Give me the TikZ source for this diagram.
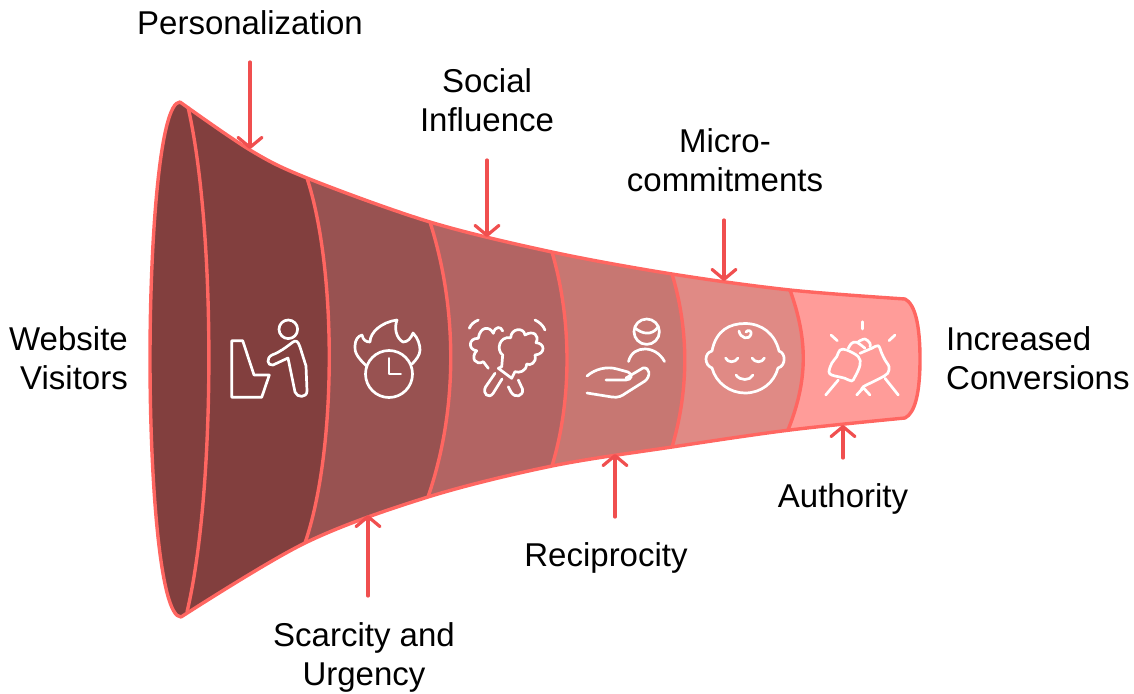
\documentclass[tikz,border=0pt]{standalone}
\usepackage{fontspec}
\setmainfont{Liberation Sans}
\usetikzlibrary{arrows.meta}
\definecolor{edgeC}{HTML}{FF6661}
\definecolor{arrC}{HTML}{F04F4F}
\definecolor{s1}{HTML}{823F3E}
\definecolor{s2}{HTML}{985251}
\definecolor{s3}{HTML}{B26463}
\definecolor{s4}{HTML}{C77772}
\definecolor{s5}{HTML}{E08A85}
\definecolor{s6}{HTML}{FF9C99}
\tikzset{
  lbl/.style={font=\fontsize{33}{39}\selectfont,text=black,inner sep=0pt},
  conn/.style={draw=arrC,line width=3.2pt,line cap=round,-{Straight Barb[length=10pt,width=24pt,line width=3.2pt,round]}},
  seam/.style={draw=edgeC,line width=3.4pt},
  ico/.style={draw=white,line width=2.7pt,line cap=round,line join=round},
}
\newcommand{\funneloutline}{
  (180,102)
  -- plot[smooth,tension=.55] coordinates {(180,102) (250,150) (307,178) (430,222) (552,252) (672,274) (790,290) (905,299)}
  .. controls (915,304) and (920,325) .. (920,359)
  .. controls (920,393) and (915,413) .. (905,418)
  -- plot[smooth,tension=.55] coordinates {(905,418) (790,430) (672,447) (552,466) (428,497) (305,543) (181,617)}
  .. controls (160,617) and (150,480) .. (150,359)
  .. controls (150,238) and (160,102) .. (180,102)
}
\begin{document}
\begin{tikzpicture}[x=1pt,y=-1pt]
\useasboundingbox (0,0) rectangle (1134,693);
\begin{scope}
  \clip \funneloutline;
  \fill[s6] (140,90) rectangle (930,630);
  \fill[s5] (140,90) -- (790,90) -- (790,290) .. controls (808,340) and (808,380) .. (788,430) -- (788,630) -- (140,630) -- cycle;
  \fill[s4] (140,90) -- (672,90) -- (672,274) .. controls (689,330) and (689,390) .. (672,447) -- (672,630) -- (140,630) -- cycle;
  \fill[s3] (140,90) -- (552,90) -- (552,252) .. controls (572,320) and (572,400) .. (552,466) -- (552,630) -- (140,630) -- cycle;
  \fill[s2] (140,90) -- (430,90) -- (430,222) .. controls (458,310) and (458,410) .. (428,497) -- (428,630) -- (140,630) -- cycle;
  \fill[s1] (140,90) -- (307,90) -- (307,178) .. controls (337,270) and (337,450) .. (305,543) -- (305,630) -- (140,630) -- cycle;
\end{scope}
\draw[seam] (188,107) .. controls (216,230) and (216,490) .. (187,612);
\draw[seam] (307,178) .. controls (337,270) and (337,450) .. (305,543);
\draw[seam] (430,222) .. controls (458,310) and (458,410) .. (428,497);
\draw[seam] (552,252) .. controls (572,320) and (572,400) .. (552,466);
\draw[seam] (672,274) .. controls (689,330) and (689,390) .. (672,447);
\draw[seam] (790,290) .. controls (808,340) and (808,380) .. (788,430);
\draw[draw=edgeC,line width=3.4pt,line join=round] \funneloutline -- cycle;

% icon 1
\draw[ico] (231.7,340.7) -- (242.7,340.7) -- (254,375) -- (269.3,375) -- (261.7,397.3) -- (231.7,397.3) -- cycle;
\draw[ico] (288.3,329.3) circle (9.3);
\draw[ico] (293,342) .. controls (285,348) and (280,352) .. (272,355) .. controls (266,358) and (267,366) .. (273,365)
  -- (288,358) -- (295,392) .. controls (297,398) and (307,398) .. (307,391) -- (306,366) -- (300,347) .. controls (298,341) and (296,340) .. (293,342);
% icon 2
\draw[ico] (389,374) circle (23.5);
\draw[ico] (389,358.3) -- (389,374) -- (400.7,374);
\draw[ico] (366.5,366) .. controls (358,358) and (354,352) .. (355,346) .. controls (355,340) and (358,336) .. (362,335)
  .. controls (363,340) and (366,342) .. (370,342) .. controls (370,332) and (382,322) .. (397,320)
  .. controls (394,328) and (396,338) .. (403,342) .. controls (408,342) and (411,338) .. (413,333)
  .. controls (418,338) and (420,345) .. (420,350) .. controls (420,355) and (416,360) .. (412,364);
% icon 3
\draw[ico] (469.3,328.3) .. controls (471,324) and (474,322) .. (478.3,320);
\draw[ico] (535,320) .. controls (539,322) and (543,325) .. (545,330);
\draw[ico] (502.7,331) .. controls (501,326) and (495,326) .. (493.3,333.3)
  .. controls (490,326) and (480,326) .. (478.3,338.3)
  .. controls (468,338) and (468,350) .. (476.7,350.7)
  .. controls (470,358) and (476,366) .. (483.3,361.7)
  -- (488.3,368.3);
\draw[ico] (501.7,366.7) -- (502.7,355)
  .. controls (496,350) and (499,336) .. (510.7,337.7)
  .. controls (511,328) and (524,327) .. (525,335)
  .. controls (533,330) and (540,335) .. (536,342.7)
  .. controls (545,343) and (546,354) .. (535,355)
  .. controls (537,363) and (530,366) .. (526.7,364)
  .. controls (526,372) and (519,373) .. (515,371.7)
  -- (511.7,378.3) -- (498.3,368.3) -- cycle;
\draw[ico] (495,373.3) -- (485.5,387) .. controls (482,394) and (489,399) .. (493,393.5) -- (502,379);
\draw[ico] (508.3,386.7) -- (511,392) .. controls (515,399) and (524,396) .. (522.5,389) -- (518.3,380);
% icon 4
\draw[ico] (646.7,331.7) circle (12.7);
\draw[ico] (635,328) .. controls (642,334) and (652,336) .. (658,327);
\draw[ico] (628.5,361.5) .. controls (631,352) and (638,349) .. (645,349) .. controls (652,349) and (660,353) .. (664.5,361.5);
\draw[ico] (587,376) .. controls (595,369) and (607,366) .. (617,369) -- (628,372) .. controls (633,374) and (632,380) .. (626,380) -- (606,380);
\draw[ico] (587,393) -- (612,397) .. controls (618,398) and (622,396) .. (626,393) -- (645,381)
  .. controls (651,376) and (650,367) .. (643,368) -- (626,378);
% icon 5
\draw[ico] (712,351) .. controls (716,330) and (730,323.5) .. (745,323.5) .. controls (762,323.5) and (775,334) .. (779,351)
  .. controls (786,353) and (786,366) .. (778,368) .. controls (774,383) and (761,393) .. (745,393)
  .. controls (730,393) and (716,383) .. (712,368) .. controls (704,365) and (704,353) .. (712,351);
\draw[ico] (739,331) .. controls (740,338) and (749,341) .. (751,334) .. controls (752,331) and (748,329) .. (746,332);
\draw[ico] (725.5,358) .. controls (728,363) and (735,363) .. (738,358);
\draw[ico] (752,358) .. controls (755,363) and (762,363) .. (764.5,358);
\draw[ico] (736,375) .. controls (740,381) and (750,381) .. (753,375);
% icon 6
\draw[ico] (862.7,321.7) -- (862.7,329);
\draw[ico] (831,335) -- (837.3,340.7);
\draw[ico] (895,335) -- (889,340.7);
\draw[ico] plot[smooth cycle,tension=.6] coordinates {(829,371.7) (831.7,363.3) (836.7,356.7) (840,350) (846.7,350) (858.3,356.7) (860,365) (855,376.7) (851.7,381) (845,378.3) (838.3,376.7) (831.7,375)};
\draw[ico] plot[smooth,tension=.6] coordinates {(848.3,348.3) (851.7,343.3) (856.7,342.3) (865,348.3)};
\draw[ico] plot[smooth,tension=.6] coordinates {(858.3,341.7) (865,339) (870,343.3) (870,346.7)};
\draw[ico] plot[smooth,tension=.5] coordinates {(860,353.3) (871.7,348.3) (878.3,345.7) (881.7,353.3) (885,360) (889,366.7) (887.7,373.3) (880,378.3) (863.3,386.7) (861.7,390)};
\draw[ico] (856.7,395) -- (863.3,387.7) -- (870,395);
\draw[ico] (885,378.3) -- (898.3,395);
\draw[ico] (838.3,380) -- (825.7,395);

% labels and connectors
\node[lbl] (pers) at (250,23) {Personalization};
\node[lbl,align=center] (soc) at (487,100.5) {Social\\Influence};
\node[lbl,align=center] (micro) at (725,160.5) {Micro-\\commitments};
\node[lbl,align=right,anchor=east] (web) at (128,358.5) {Website\\Visitors};
\node[lbl,align=left,anchor=west] (inc) at (946,358.5) {Increased\\Conversions};
\node[lbl,align=center] (scar) at (364,657) {Scarcity and\\Urgency};
\node[lbl] (rec) at (606,558) {Reciprocity};
\node[lbl] (auth) at (843,499) {Authority};
\coordinate (a1s) at (250,62);  \coordinate (a1e) at (250,149);
\coordinate (a2s) at (487,160); \coordinate (a2e) at (487,237);
\coordinate (a3s) at (724,220); \coordinate (a3e) at (724,281);
\coordinate (a4s) at (368,596); \coordinate (a4e) at (368,515);
\coordinate (a5s) at (615,517); \coordinate (a5e) at (615,454);
\coordinate (a6s) at (843,458); \coordinate (a6e) at (843,425);
\draw[conn] (a1s) -- (a1e);
\draw[conn] (a2s) -- (a2e);
\draw[conn] (a3s) -- (a3e);
\draw[conn] (a4s) -- (a4e);
\draw[conn] (a5s) -- (a5e);
\draw[conn] (a6s) -- (a6e);
\end{tikzpicture}
\end{document}
